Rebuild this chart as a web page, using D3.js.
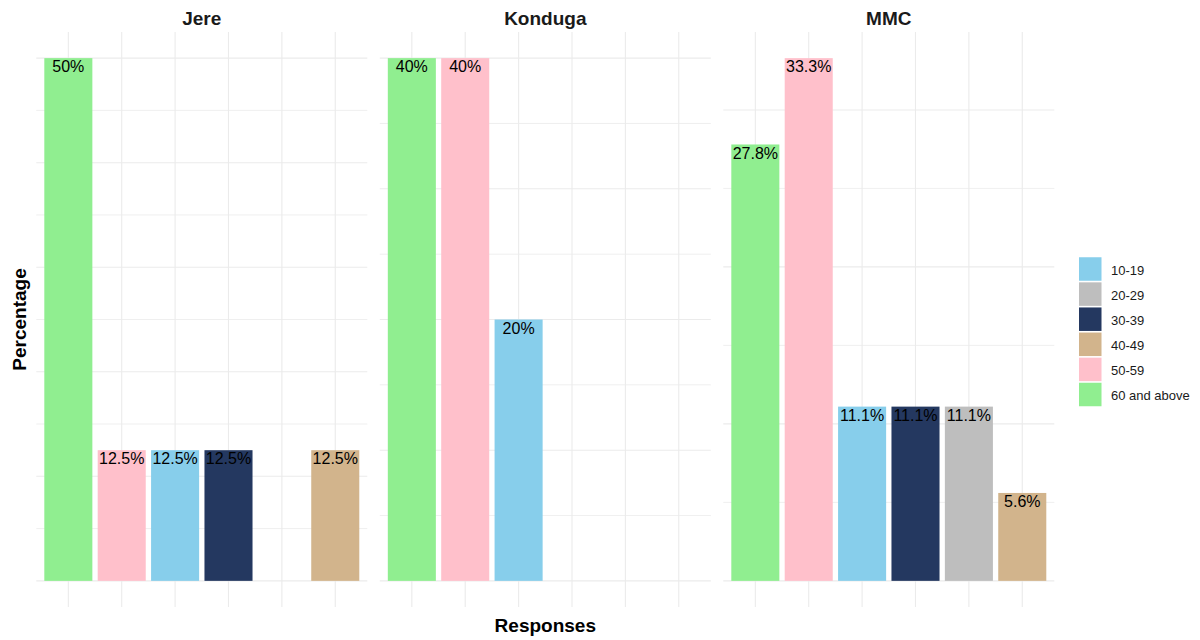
<!DOCTYPE html>
<html>
<head>
<meta charset="utf-8">
<script src="https://cdn.jsdelivr.net/npm/d3@7"></script>
<style>
  html, body { margin: 0; padding: 0; background: #ffffff; }
  svg { display: block; font-family: "Liberation Sans", Arial, sans-serif; }
</style>
</head>
<body>
<svg id="chart" width="1200" height="640"></svg>
<script>
// Age groups in their x-axis order
const categories = ["60 and above", "50-59", "10-19", "30-39", "20-29", "40-49"];
// Facet panels
const panels = ["Jere", "Konduga", "MMC"];
// Share of respondents (%) per age group, in category order (null = no bar)
const jereValues    = [50, 12.5, 12.5, 12.5, null, 12.5];
const kondugaValues = [40, 40, 20, null, null, null];
const mmcValues     = [27.8, 33.3, 11.1, 11.1, 11.1, 5.6];
// Value labels printed on the bars
const jereLabels    = ["50%", "12.5%", "12.5%", "12.5%", null, "12.5%"];
const kondugaLabels = ["40%", "40%", "20%", null, null, null];
const mmcLabels     = ["27.8%", "33.3%", "11.1%", "11.1%", "11.1%", "5.6%"];
// Legend order
const legendOrder = ["10-19", "20-29", "30-39", "40-49", "50-59", "60 and above"];

const panelValues = [jereValues, kondugaValues, mmcValues];
const panelLabels = [jereLabels, kondugaLabels, mmcLabels];

const fillScale = d3.scaleOrdinal()
  .domain(["10-19", "20-29", "30-39", "40-49", "50-59", "60 and above"])
  .range(["#87CEEB", "#BEBEBE", "#243860", "#D2B48C", "#FFC0CB", "#90EE90"]);

const svg = d3.select("#chart");

// Layout of the facet grid
const panelTop = 32, panelBottom = 607;
const panelWidth = 331;
const panelLefts = [36.3, 379.8, 723.3];
const gridColor = "#EBEBEB";

panels.forEach((name, i) => {
  const left = panelLefts[i];
  const right = left + panelWidth;
  const values = panelValues[i];
  const labels = panelLabels[i];
  const maxV = d3.max(values.filter(v => v != null));

  const x = d3.scaleBand()
    .domain(categories)
    .range([left, right])
    .paddingInner(0.1)
    .paddingOuter(0.15);

  const y = d3.scaleLinear()
    .domain([-0.05 * maxV, 1.05 * maxV])
    .range([panelBottom, panelTop]);

  const g = svg.append("g").attr("class", "panel");

  // horizontal grid every 5 percentage points
  const yBreaks = d3.range(0, maxV + 1e-9, 5);
  g.append("g").selectAll("line")
    .data(yBreaks)
    .join("line")
    .attr("x1", left).attr("x2", right)
    .attr("y1", d => y(d)).attr("y2", d => y(d))
    .attr("stroke", gridColor)
    .attr("stroke-width", d => (d % 10 === 0 ? 1.1 : 0.8));

  // vertical grid at each category
  g.append("g").selectAll("line")
    .data(categories)
    .join("line")
    .attr("x1", d => x(d) + x.bandwidth() / 2)
    .attr("x2", d => x(d) + x.bandwidth() / 2)
    .attr("y1", panelTop).attr("y2", panelBottom)
    .attr("stroke", gridColor)
    .attr("stroke-width", 1.1);

  const rows = categories
    .map((c, k) => ({ cat: c, value: values[k], label: labels[k] }))
    .filter(d => d.value != null);

  // bars
  g.append("g").selectAll("rect")
    .data(rows)
    .join("rect")
    .attr("x", d => x(d.cat))
    .attr("width", x.bandwidth())
    .attr("y", d => y(d.value))
    .attr("height", d => y(0) - y(d.value))
    .attr("fill", d => fillScale(d.cat));

  // value labels just inside the top of each bar
  g.append("g").selectAll("text")
    .data(rows)
    .join("text")
    .attr("x", d => x(d.cat) + x.bandwidth() / 2)
    .attr("y", d => y(d.value) + 14.2)
    .attr("text-anchor", "middle")
    .attr("font-size", "16px")
    .attr("fill", "#000000")
    .text(d => d.label);

  // strip title
  svg.append("text")
    .attr("x", (left + right) / 2)
    .attr("y", 25)
    .attr("text-anchor", "middle")
    .attr("font-size", "19px")
    .attr("font-weight", "bold")
    .attr("fill", "#1A1A1A")
    .text(name);
});

// axis titles
svg.append("text")
  .attr("x", (panelLefts[0] + panelLefts[2] + panelWidth) / 2)
  .attr("y", 632)
  .attr("text-anchor", "middle")
  .attr("font-size", "19px")
  .attr("font-weight", "bold")
  .attr("fill", "#000000")
  .text("Responses");

svg.append("text")
  .attr("transform", `translate(25.5, ${(panelTop + panelBottom) / 2}) rotate(-90)`)
  .attr("text-anchor", "middle")
  .attr("font-size", "19px")
  .attr("font-weight", "bold")
  .attr("fill", "#000000")
  .text("Percentage");

// legend
const legendY = d3.scalePoint()
  .domain(legendOrder)
  .range([269, 394.5]);

const legend = svg.append("g").attr("class", "legend");
const items = legend.selectAll("g")
  .data(legendOrder)
  .join("g")
  .attr("transform", d => `translate(1079, ${legendY(d)})`);

items.append("rect")
  .attr("x", 0)
  .attr("y", -11.75)
  .attr("width", 22.5)
  .attr("height", 23.5)
  .attr("fill", d => fillScale(d));

items.append("text")
  .attr("x", 32)
  .attr("y", 5.5)
  .attr("font-size", "13px")
  .attr("fill", "#1A1A1A")
  .text(d => d);
</script>
</body>
</html>
